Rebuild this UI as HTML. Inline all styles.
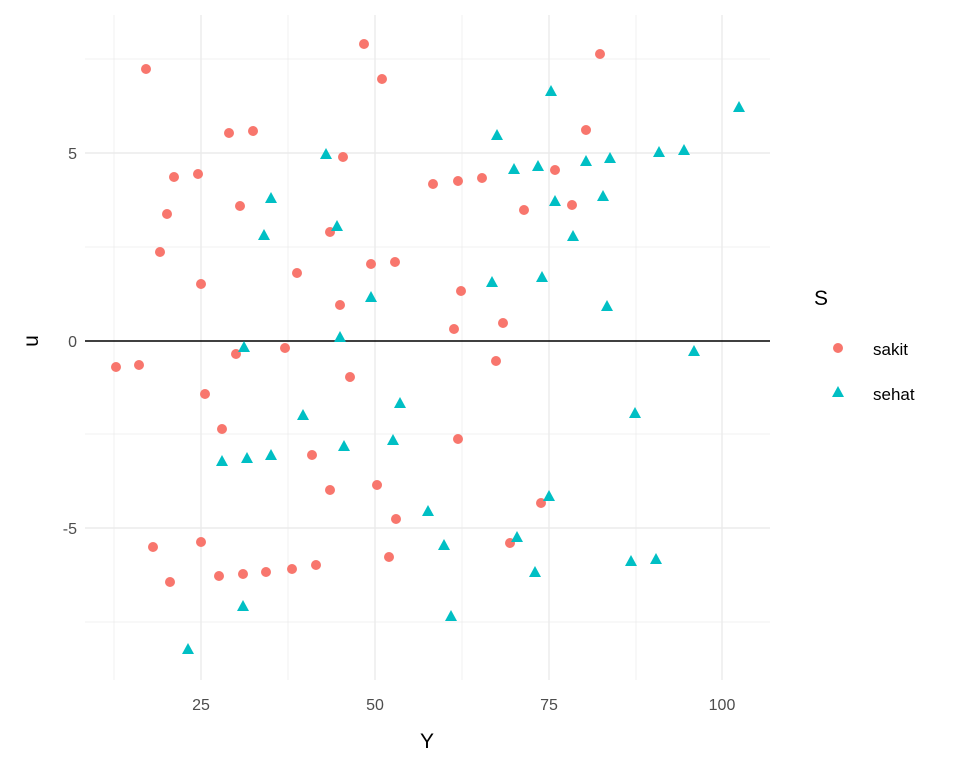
<!DOCTYPE html><html><head><style>body{margin:0;background:#fff}svg{display:block}text{font-family:"Liberation Sans",sans-serif}</style></head><body>
<svg width="960" height="768" xmlns="http://www.w3.org/2000/svg">
<g stroke="#ebebeb" stroke-width="0.7">
<line x1="114" y1="15" x2="114" y2="680"/><line x1="288" y1="15" x2="288" y2="680"/><line x1="462" y1="15" x2="462" y2="680"/><line x1="636" y1="15" x2="636" y2="680"/>
<line x1="85" y1="59" x2="770" y2="59"/><line x1="85" y1="247" x2="770" y2="247"/><line x1="85" y1="434" x2="770" y2="434"/><line x1="85" y1="622" x2="770" y2="622"/>
</g>
<g stroke="#ebebeb" stroke-width="1.4">
<line x1="201" y1="15" x2="201" y2="680"/><line x1="375" y1="15" x2="375" y2="680"/><line x1="549" y1="15" x2="549" y2="680"/><line x1="722" y1="15" x2="722" y2="680"/>
<line x1="85" y1="153" x2="770" y2="153"/><line x1="85" y1="528" x2="770" y2="528"/>
</g>
<line x1="85" y1="341" x2="770" y2="341" stroke="#000" stroke-width="1.5"/>
<g fill="#4d4d4d" font-size="16" text-anchor="middle">
<text x="201" y="710">25</text><text x="375" y="710">50</text><text x="549" y="710">75</text><text x="722" y="710">100</text>
</g>
<g fill="#4d4d4d" font-size="16" text-anchor="end">
<text x="77" y="159">5</text><text x="77" y="347">0</text><text x="77" y="534">-5</text>
</g>
<text x="427" y="748" font-size="21" text-anchor="middle">Y</text>
<text transform="translate(38,341) rotate(-90)" font-size="21" text-anchor="middle">u</text>
<g fill="#F8766D">
<circle cx="116" cy="367" r="5"/><circle cx="139" cy="365" r="5"/><circle cx="146" cy="69" r="5"/><circle cx="153" cy="547" r="5"/><circle cx="160" cy="252" r="5"/><circle cx="167" cy="214" r="5"/><circle cx="170" cy="582" r="5"/><circle cx="174" cy="177" r="5"/><circle cx="198" cy="174" r="5"/><circle cx="201" cy="284" r="5"/><circle cx="201" cy="542" r="5"/><circle cx="205" cy="394" r="5"/><circle cx="219" cy="576" r="5"/><circle cx="222" cy="429" r="5"/><circle cx="229" cy="133" r="5"/><circle cx="236" cy="354" r="5"/><circle cx="240" cy="206" r="5"/><circle cx="243" cy="574" r="5"/><circle cx="253" cy="131" r="5"/><circle cx="266" cy="572" r="5"/><circle cx="285" cy="348" r="5"/><circle cx="292" cy="569" r="5"/><circle cx="297" cy="273" r="5"/><circle cx="312" cy="455" r="5"/><circle cx="316" cy="565" r="5"/><circle cx="330" cy="490" r="5"/><circle cx="330" cy="232" r="5"/><circle cx="340" cy="305" r="5"/><circle cx="343" cy="157" r="5"/><circle cx="350" cy="377" r="5"/><circle cx="364" cy="44" r="5"/><circle cx="371" cy="264" r="5"/><circle cx="377" cy="485" r="5"/><circle cx="382" cy="79" r="5"/><circle cx="389" cy="557" r="5"/><circle cx="395" cy="262" r="5"/><circle cx="396" cy="519" r="5"/><circle cx="433" cy="184" r="5"/><circle cx="458" cy="181" r="5"/><circle cx="458" cy="439" r="5"/><circle cx="461" cy="291" r="5"/><circle cx="454" cy="329" r="5"/><circle cx="482" cy="178" r="5"/><circle cx="496" cy="361" r="5"/><circle cx="503" cy="323" r="5"/><circle cx="510" cy="543" r="5"/><circle cx="524" cy="210" r="5"/><circle cx="541" cy="503" r="5"/><circle cx="555" cy="170" r="5"/><circle cx="572" cy="205" r="5"/><circle cx="586" cy="130" r="5"/><circle cx="600" cy="54" r="5"/>
<circle cx="838" cy="348" r="5"/>
</g>
<g fill="#00BFC4" id="tri"></g>
<text x="814" y="305" font-size="21">S</text>
<text x="873" y="355" font-size="17">sakit</text>
<text x="873" y="400" font-size="17">sehat</text>
<g fill="#00BFC4">
<polygon points="188,643 182,654 194,654"/><polygon points="222,455 216,466 228,466"/><polygon points="243,600 237,611 249,611"/><polygon points="244,341 238,352 250,352"/><polygon points="247,452 241,463 253,463"/><polygon points="264,229 258,240 270,240"/><polygon points="271,192 265,203 277,203"/><polygon points="271,449 265,460 277,460"/><polygon points="303,409 297,420 309,420"/><polygon points="326,148 320,159 332,159"/><polygon points="337,220 331,231 343,231"/><polygon points="340,331 334,342 346,342"/><polygon points="344,440 338,451 350,451"/><polygon points="371,291 365,302 377,302"/><polygon points="393,434 387,445 399,445"/><polygon points="400,397 394,408 406,408"/><polygon points="428,505 422,516 434,516"/><polygon points="444,539 438,550 450,550"/><polygon points="451,610 445,621 457,621"/><polygon points="492,276 486,287 498,287"/><polygon points="497,129 491,140 503,140"/><polygon points="514,163 508,174 520,174"/><polygon points="517,531 511,542 523,542"/><polygon points="535,566 529,577 541,577"/><polygon points="538,160 532,171 544,171"/><polygon points="542,271 536,282 548,282"/><polygon points="549,490 543,501 555,501"/><polygon points="551,85 545,96 557,96"/><polygon points="555,195 549,206 561,206"/><polygon points="573,230 567,241 579,241"/><polygon points="586,155 580,166 592,166"/><polygon points="603,190 597,201 609,201"/><polygon points="607,300 601,311 613,311"/><polygon points="610,152 604,163 616,163"/><polygon points="631,555 625,566 637,566"/><polygon points="635,407 629,418 641,418"/><polygon points="656,553 650,564 662,564"/><polygon points="659,146 653,157 665,157"/><polygon points="684,144 678,155 690,155"/><polygon points="694,345 688,356 700,356"/><polygon points="739,101 733,112 745,112"/>
<polygon points="838,386 832,397 844,397"/>
</g>
</svg>
</body></html>
